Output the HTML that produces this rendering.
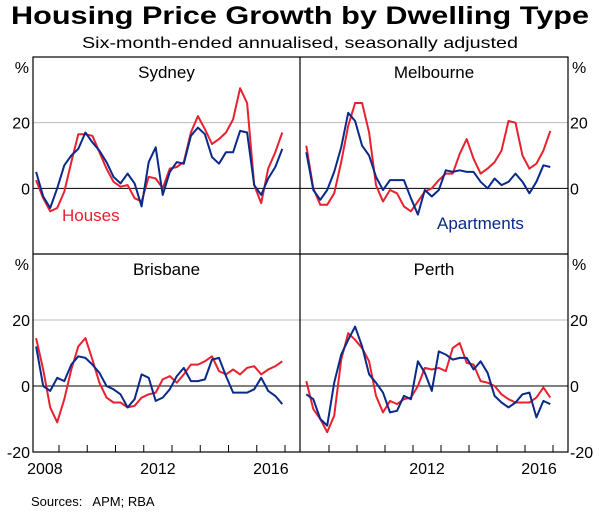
<!DOCTYPE html>
<html><head><meta charset="utf-8"><style>
body{margin:0;background:#fff}
svg{display:block;font-family:"Liberation Sans",Arial,sans-serif}
</style></head><body>
<svg id="chart" width="600" height="512" viewBox="0 0 600 512">
<text x="300" y="24" text-anchor="middle" font-size="25" font-weight="bold" textLength="578" lengthAdjust="spacingAndGlyphs">Housing Price Growth by Dwelling Type</text>
<text x="300" y="48" text-anchor="middle" font-size="16" textLength="436" lengthAdjust="spacingAndGlyphs">Six-month-ended annualised, seasonally adjusted</text>
<g id="grid"></g>
<g id="lines"></g>
<g id="frame"></g>
<text x="62" y="221" fill="#e8212e" font-size="17">Houses</text>
<text x="437" y="229" fill="#0a2a8a" font-size="17">Apartments</text>
<text x="31" y="506" font-size="13">Sources:&#160;&#160; APM; RBA</text>
</svg>
<script>
const cities = ["Sydney","Melbourne","Brisbane","Perth"];
const yTicks = [20, 0, -20];
const yearLabels = [2008, 2012, 2016];
const sydneyHouses = [2.5,-3,-7,-6,-1,8,16.5,16.5,16,11,6,2,0.5,1,-3,-4,3.5,3,0,6,6.5,8,17,22,18,13.5,15,17,21,30.5,26,1,-4.5,6,11,17];
const sydneyApartments = [5,-2.5,-6,0,7,10,12,17,14,11.5,8,3.5,1.5,4.5,1.5,-5.5,8,12.5,-2,5,8,7.5,16,18.5,16.5,9.5,7.5,11,11,17.5,17,1,-2,3,6.5,12];
const melbourneHouses = [13,0,-5,-5,-1.5,8,19,26,26,17,1,-4,-0.5,-1.5,-5.5,-7,-4,-1,0,2.5,4.5,4.5,10.5,15,9,4.5,6,8,11.5,20.5,20,10,6,7.5,11.5,17.5];
const melbourneApartments = [11,-0.5,-3.5,-0.5,5,12.5,23,20.5,13,10,3.5,-0.5,2.5,2.5,2.5,-3,-8,-0.5,-2.5,-0.5,5.5,5,5.5,5,5,2,0,3,1,2,4.5,2,-1.5,2,7,6.5];
const brisbaneHouses = [14.5,5,-6.5,-11,-4,5,12,14.5,8,1,-3.5,-5,-5,-6.5,-6,-3.5,-2.5,-2,2,3,1,3.5,6.5,6.5,7.5,9,4.5,3.5,5,3.5,5.5,6,3.5,5,6,7.5];
const brisbaneApartments = [12,0,-1.5,2.5,1.5,6.5,9,8.5,6.5,4,0,-1,-2.5,-6.5,-4,3.5,2.5,-4.5,-3.5,-1,3,5.5,1.5,1.5,2,8,8.5,3,-2,-2,-2,-1,2.5,-1.5,-3,-5.5];
const perthHouses = [1.5,-7,-10,-14,-9,8,16,14,11.5,7.5,-3,-8,-4.5,-5.5,-4,-3.5,0,5.5,5,5.5,4.5,11.5,13,7,6.5,1.5,1,0,-2.5,-4,-5,-5,-5,-3.5,-0.5,-3.5];
const perthApartments = [-2.5,-4,-10,-12,1,9.5,14,18,12,3.5,1,-2,-8,-7.5,-3,-4,7.5,4,-1.5,10.5,9.5,8,8.5,8.5,5,7.5,4,-3,-5,-6.5,-5,-2.5,-2,-9.5,-4.5,-5.5];
const houses = [sydneyHouses, melbourneHouses, brisbaneHouses, perthHouses];
const apartments = [sydneyApartments, melbourneApartments, brisbaneApartments, perthApartments];
const startYear = 2008.19, stepYear = 0.249;

const NS="http://www.w3.org/2000/svg";
const svg=document.getElementById('chart');
const G=document.getElementById('grid'),L=document.getElementById('lines'),F=document.getElementById('frame');
const X0=33,X1=568,XM=300,Y0=57,YM=254,Y1=452;
const panels=[{x0:X0,x1:XM,y0:Y0,y1:YM,org:30.75,pw:28.25},{x0:XM,x1:X1,y0:Y0,y1:YM,org:301,pw:28},
              {x0:X0,x1:XM,y0:YM,y1:Y1,org:30.75,pw:28.25},{x0:XM,x1:X1,y0:YM,y1:Y1,org:301,pw:28}];
function mk(tag,attrs,parent){const e=document.createElementNS(NS,tag);for(const k in attrs)e.setAttribute(k,attrs[k]);parent.appendChild(e);return e;}
function xS(p,t){return p.org+(t-2008)*p.pw;}
function yS(p,v){return p.y1-(v+20)*(p.y1-p.y0)/60;}

panels.forEach((p,i)=>{
  [20].forEach(v=>{const l=mk('line',{x1:p.x0,x2:p.x1,y1:yS(p,v),y2:yS(p,v),stroke:'#bbb','stroke-width':1},G);
    
    });
  const z=mk('line',{x1:p.x0,x2:p.x1,y1:yS(p,0),y2:yS(p,0),stroke:'#000','stroke-width':1},G);
  
  
  const t=mk('text',{x:(p.x0+p.x1)/2,y:p.y0+21,'text-anchor':'middle','font-size':17},F);
  t.textContent=cities[i];
  
  
  [[houses[i],'#e8212e','houses'],[apartments[i],'#0a2a8a','apartments']].forEach(([arr,c,n])=>{
    const pts=arr.map((v,j)=>xS(p,startYear+j*stepYear).toFixed(1)+','+yS(p,v).toFixed(1)).join(' ');
    const pl=mk('polyline',{points:pts,fill:'none',stroke:c,'stroke-width':2,'stroke-linejoin':'round'},L);
    
    
  });
});
const fr=mk('rect',{x:X0,y:Y0,width:X1-X0,height:Y1-Y0,fill:'none',stroke:'#000','stroke-width':1.2},F);


mk('line',{x1:XM,x2:XM,y1:Y0,y2:Y1,stroke:'#000','stroke-width':1.2},F);
mk('line',{x1:X0,x2:X1,y1:YM,y2:YM,stroke:'#000','stroke-width':1.2},F);
[panels[2],panels[3]].forEach(p=>{
  for(let y=2009;y<=2017;y++){const x=xS(p,y);if(x>p.x0+2&&x<p.x1-2){
    const tk=mk('line',{x1:x,x2:x,y1:Y1,y2:Y1-7,stroke:'#000','stroke-width':1},F);
    
    }}
  yearLabels.forEach(yr=>{const x=xS(p,yr+0.5);if(x>p.x0-20&&x<p.x1){
    if(p===panels[3]&&yr===2008)return;
    const tx=mk('text',{x:x,y:Y1+22,'text-anchor':'middle','font-size':16},F);
    tx.textContent=yr;
    
    }});
});
[[Y0,YM],[YM,Y1]].forEach(([a,b],k)=>{
  const p={y0:a,y1:b};
  [['start',572],['end',30]].forEach(([anc,x])=>{
    const pc=mk('text',{x:anc==='end'?29:572,y:a+16,'text-anchor':anc,'font-size':16},F);
    pc.textContent='%';
    
    
    yTicks.forEach(v=>{
      if(v===-20&&k===0)return;
      const tx=mk('text',{x:anc==='end'?30:570,y:yS(p,v)+6,'text-anchor':anc,'font-size':16},F);
      tx.textContent=v;
      
      
    });
  });
});
</script>
</body></html>
